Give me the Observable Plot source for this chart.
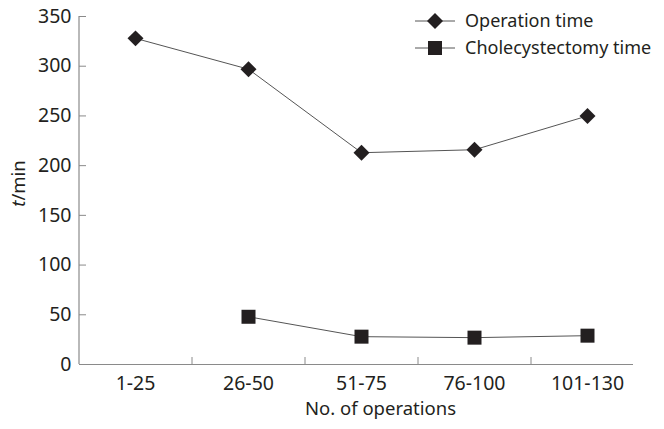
<!DOCTYPE html>
<html><head><meta charset="utf-8">
<script src="https://cdn.jsdelivr.net/npm/d3@7"></script>
<script src="https://cdn.jsdelivr.net/npm/@observablehq/plot@0.6"></script>
<style>
body{margin:0;background:#fff;}
#wrap{position:relative;width:664px;height:429px;font-family:"Noto Sans",sans-serif;color:#231f20;}
#legend{position:absolute;left:0;top:0;}
</style></head><body><div id="wrap"></div>
<script>
const categories = ["1-25", "26-50", "51-75", "76-100", "101-130"];
const operationTime = [328, 297, 213, 216, 250];
const cholecystectomyTime = [null, 48, 28, 27, 29];
const yTicks = [0, 50, 100, 150, 200, 250, 300, 350];
const seriesNames = ["Operation time", "Cholecystectomy time"];
const xTitle = "No. of operations";
const yTitle = "t/min";

const ink = "#231f20", axisGray = "#8a8a8a", lineGray = "#555555";
const opData = categories.map((c, i) => ({i, c, v: operationTime[i]}));
const chData = categories.map((c, i) => ({i, c, v: cholecystectomyTime[i]})).filter(d => d.v != null);
const idx = categories.map((c, i) => i);
const boundaries = categories.slice(1).map((c, i) => i + 0.5);

const chart = Plot.plot({
  width: 664, height: 429,
  marginLeft: 79, marginRight: 31, marginTop: 16, marginBottom: 65,
  style: {fontFamily: "'Noto Sans', sans-serif", fontSize: "18px", color: ink, background: "white", overflow: "visible"},
  x: {type: "linear", domain: [-0.5, categories.length - 0.5], range: [78.5, 643.5]},
  y: {domain: [0, 350]},
  marks: [
    Plot.ruleY([0], {stroke: axisGray, strokeWidth: 1.2}),
    Plot.ruleX([-0.5], {stroke: axisGray, strokeWidth: 1.2}),
    Plot.axisY(yTicks, {tickSize: -7, tickPadding: 15, stroke: axisGray, fill: ink, label: null, fontSize: 19.5}),
    Plot.axisX(boundaries, {tickSize: -7, tickFormat: () => "", stroke: axisGray, label: null}),
    Plot.axisX(idx, {tickSize: 0, tickPadding: 12, tickFormat: i => categories[i], fill: ink, label: null, fontSize: 19.5}),
    Plot.text([xTitle], {frameAnchor: "bottom", dy: 50, dx: 24, fill: ink, fontSize: 18.5}),
    Plot.text([yTitle], {frameAnchor: "left", textAnchor: "middle", rotate: -90, dx: -60, dy: -7, fill: ink, fontSize: 18.5}),
    Plot.line(opData, {x: "i", y: "v", stroke: lineGray, strokeWidth: 1}),
    Plot.line(chData, {x: "i", y: "v", stroke: lineGray, strokeWidth: 1}),
    Plot.dot(opData, {x: "i", y: "v", symbol: "diamond2", r: 7.2, fill: ink, stroke: "none"}),
    Plot.dot(chData, {x: "i", y: "v", symbol: "square", r: 7.9, fill: ink, stroke: "none"})
  ]
});
document.getElementById("wrap").appendChild(chart);

// italic "t" in the y title
d3.select(chart).selectAll("text").filter(function() { return this.textContent === yTitle; })
  .each(function() {
    const t = d3.select(this);
    t.text(null);
    t.append("tspan").attr("font-style", "italic").text(yTitle.slice(0, 1));
    t.append("tspan").text(yTitle.slice(1));
  });

// legend
const leg = d3.select("#wrap").append("svg").attr("id", "legend").attr("width", 664).attr("height", 70);
const symbols = [d3.symbol(d3.symbolDiamond2, Math.PI * 7.2 * 7.2), d3.symbol(d3.symbolSquare, Math.PI * 7.9 * 7.9)];
seriesNames.forEach((name, k) => {
  const g = leg.append("g").attr("transform", `translate(435,${21 + 27 * k})`);
  g.append("line").attr("x1", -20).attr("x2", 20).attr("stroke", lineGray).attr("stroke-width", 1);
  g.append("path").attr("d", symbols[k]()).attr("fill", ink);
  g.append("text").attr("x", 30).attr("dy", "0.35em").attr("font-size", 18)
    .attr("font-family", "'Noto Sans', sans-serif").attr("fill", ink).text(name);
});
</script>
</body></html>
